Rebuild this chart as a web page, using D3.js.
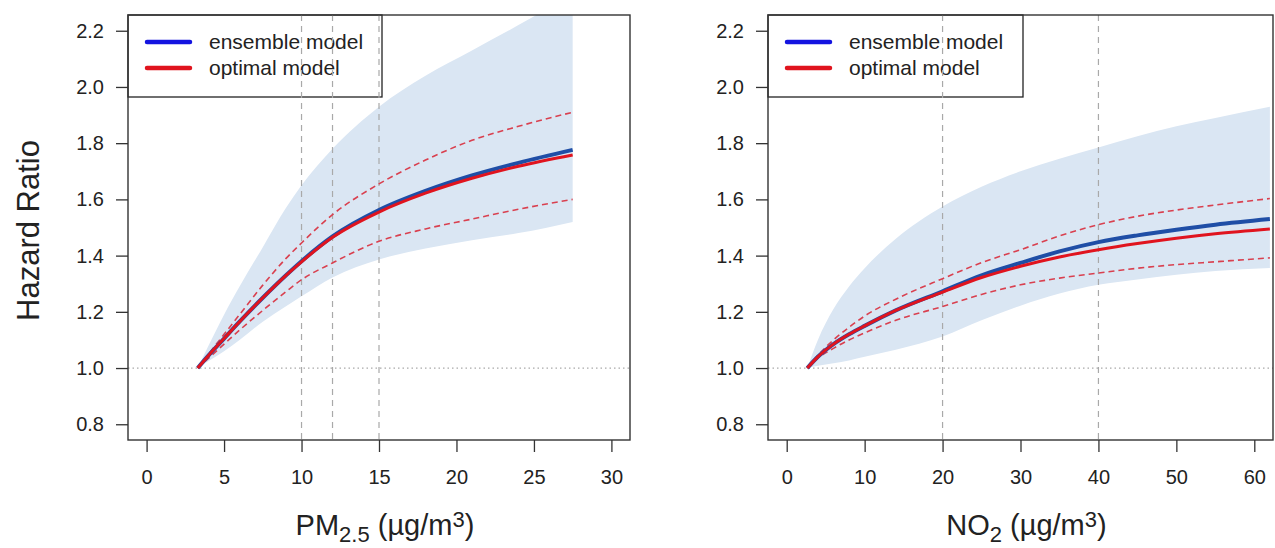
<!DOCTYPE html>
<html>
<head>
<meta charset="utf-8">
<script src="https://cdn.jsdelivr.net/npm/d3@7"></script>
<style>
  body { margin: 0; background: #fff; }
  svg { font-family: "Liberation Sans", Arial, Helvetica, sans-serif; }
</style>
</head>
<body>
<div id="graph"></div>
<script>
// PM2.5 panel
const pmX        = [3.3, 4, 5, 6, 7.5, 9, 10, 12, 15, 18, 21, 24, 27.5];
const pmEnsemble = [1.0, 1.045, 1.105, 1.165, 1.25, 1.33, 1.38, 1.468, 1.562, 1.63, 1.685, 1.73, 1.776];
const pmOptimal  = [1.0, 1.045, 1.105, 1.165, 1.25, 1.33, 1.378, 1.465, 1.555, 1.622, 1.675, 1.718, 1.758];
const pmCiUpper  = [1.0, 1.05, 1.12, 1.19, 1.295, 1.39, 1.445, 1.546, 1.655, 1.74, 1.81, 1.86, 1.91];
const pmCiLower  = [1.0, 1.035, 1.085, 1.135, 1.205, 1.272, 1.314, 1.374, 1.451, 1.495, 1.53, 1.565, 1.60];
const pmBandHigh = [1.0, 1.08, 1.19, 1.29, 1.43, 1.57, 1.65, 1.78, 1.93, 2.04, 2.13, 2.22, 2.33];
const pmBandLow  = [1.0, 1.025, 1.06, 1.10, 1.165, 1.22, 1.255, 1.322, 1.386, 1.425, 1.455, 1.48, 1.52];
const pmXTicks   = [0, 5, 10, 15, 20, 25, 30];
const pmRefLines = [10, 12, 15];

// NO2 panel
const noX        = [2.64, 4, 6, 8, 10, 14, 20, 25, 30, 35, 40, 45, 50, 55, 62];
const noEnsemble = [1.0, 1.04, 1.085, 1.12, 1.15, 1.205, 1.273, 1.33, 1.374, 1.415, 1.448, 1.472, 1.492, 1.51, 1.53];
const noOptimal  = [1.0, 1.04, 1.085, 1.12, 1.15, 1.205, 1.27, 1.322, 1.362, 1.395, 1.421, 1.443, 1.462, 1.478, 1.495];
const noCiUpper  = [1.0, 1.045, 1.10, 1.145, 1.185, 1.245, 1.318, 1.375, 1.421, 1.47, 1.51, 1.54, 1.562, 1.58, 1.603];
const noCiLower  = [1.0, 1.035, 1.07, 1.10, 1.125, 1.17, 1.219, 1.262, 1.296, 1.32, 1.338, 1.355, 1.368, 1.378, 1.392];
const noBandHigh = [1.0, 1.10, 1.21, 1.29, 1.355, 1.46, 1.575, 1.645, 1.70, 1.745, 1.785, 1.825, 1.86, 1.89, 1.93];
const noBandLow  = [1.0, 1.008, 1.017, 1.027, 1.04, 1.065, 1.112, 1.17, 1.222, 1.265, 1.296, 1.315, 1.332, 1.345, 1.356];
const noXTicks   = [0, 10, 20, 30, 40, 50, 60];
const noRefLines = [20, 40];

const yTicks = [0.8, 1.0, 1.2, 1.4, 1.6, 1.8, 2.0, 2.2];
const legendLabels = ['ensemble model', 'optimal model'];

const bandColor = '#dae6f3';
const ensembleColor = '#1f4ea6';
const optimalColor = '#e0141e';
const legendBlue = '#1414e0';
const ciColor = '#d9404f';
const refColor = '#a9a9a9';

const width = 1275;
const height = 548;

const panels = [
  {
    id: 'pm', x: pmX, ensemble: pmEnsemble, optimal: pmOptimal,
    ciUpper: pmCiUpper, ciLower: pmCiLower, bandHigh: pmBandHigh, bandLow: pmBandLow,
    xTicks: pmXTicks, refLines: pmRefLines, xDomain: [-1.2, 31.2],
    left: 128, right: 630, legendWidth: 254, showYTitle: true,
    xTitle: ['PM', '2.5', ' (µg/m', '3', ')'],
  },
  {
    id: 'no', x: noX, ensemble: noEnsemble, optimal: noOptimal,
    ciUpper: noCiUpper, ciLower: noCiLower, bandHigh: noBandHigh, bandLow: noBandLow,
    xTicks: noXTicks, refLines: noRefLines, xDomain: [-2.4, 62.4],
    left: 768, right: 1273, legendWidth: 255, showYTitle: false,
    xTitle: ['NO', '2', ' (µg/m', '3', ')'],
  },
];

const plotTop = 15;
const plotBottom = 440;

function drawPanel(svg, p) {
  const xScaler = d3.scaleLinear().domain(p.xDomain).range([p.left, p.right]);
  const yScaler = d3.scaleLinear().domain([0.744, 2.256]).range([plotBottom, plotTop]);

  const rows = p.x.map((x, i) => ({
    x, ensemble: p.ensemble[i], optimal: p.optimal[i],
    ciUpper: p.ciUpper[i], ciLower: p.ciLower[i],
    bandHigh: p.bandHigh[i], bandLow: p.bandLow[i],
  }));

  svg.append('clipPath').attr('id', `clip-${p.id}`)
    .append('rect')
    .attr('x', p.left).attr('y', plotTop)
    .attr('width', p.right - p.left).attr('height', plotBottom - plotTop);

  const area = d3.area()
    .x(d => xScaler(d.x))
    .y0(d => yScaler(d.bandLow))
    .y1(d => yScaler(d.bandHigh))
    .curve(d3.curveMonotoneX);

  svg.append('g').attr('clip-path', `url(#clip-${p.id})`)
    .append('path')
    .datum(rows)
    .attr('d', area)
    .attr('fill', bandColor);

  // legend first, reference lines cross it like in the original
  const lg = svg.append('g');
  lg.append('rect')
    .attr('x', p.left).attr('y', plotTop)
    .attr('width', p.legendWidth).attr('height', 82)
    .attr('fill', '#fff').attr('stroke', '#222').attr('stroke-width', 1.3);
  [legendBlue, optimalColor].forEach((c, i) => {
    const ly = 42 + i * 26;
    lg.append('line')
      .attr('x1', p.left + 19).attr('x2', p.left + 62)
      .attr('y1', ly).attr('y2', ly)
      .attr('stroke', c).attr('stroke-width', 4.5).attr('stroke-linecap', 'round');
    lg.append('text')
      .attr('x', p.left + 81).attr('y', ly)
      .attr('dy', '0.35em')
      .attr('font-size', '21px').attr('fill', '#222')
      .text(legendLabels[i]);
  });

  const plot = svg.append('g').attr('clip-path', `url(#clip-${p.id})`);

  plot.selectAll('.ref')
    .data(p.refLines)
    .enter()
    .append('line')
    .attr('x1', d => xScaler(d)).attr('x2', d => xScaler(d))
    .attr('y1', plotTop).attr('y2', plotBottom)
    .attr('stroke', refColor).attr('stroke-width', 1.2)
    .attr('stroke-dasharray', '6,5');

  plot.append('line')
    .attr('x1', p.left).attr('x2', p.right)
    .attr('y1', yScaler(1)).attr('y2', yScaler(1))
    .attr('stroke', refColor).attr('stroke-width', 1.2)
    .attr('stroke-dasharray', '1.5,3');

  const lineOf = key => d3.line()
    .x(d => xScaler(d.x))
    .y(d => yScaler(d[key]))
    .curve(d3.curveMonotoneX);

  ['ciUpper', 'ciLower'].forEach(key => {
    plot.append('path')
      .datum(rows)
      .attr('d', lineOf(key))
      .attr('fill', 'none')
      .attr('stroke', ciColor).attr('stroke-width', 1.6)
      .attr('stroke-dasharray', '6,4');
  });

  plot.append('path')
    .datum(rows)
    .attr('d', lineOf('ensemble'))
    .attr('fill', 'none')
    .attr('stroke', ensembleColor).attr('stroke-width', 4);

  plot.append('path')
    .datum(rows)
    .attr('d', lineOf('optimal'))
    .attr('fill', 'none')
    .attr('stroke', optimalColor).attr('stroke-width', 3);

  // box
  svg.append('rect')
    .attr('x', p.left).attr('y', plotTop)
    .attr('width', p.right - p.left).attr('height', plotBottom - plotTop)
    .attr('fill', 'none').attr('stroke', '#333').attr('stroke-width', 1.4);

  const yAxisGen = d3.axisLeft(yScaler)
    .tickValues(yTicks)
    .tickFormat(d3.format('.1f'))
    .tickSize(12)
    .tickPadding(12);
  const yAxis = svg.append('g')
    .attr('transform', `translate(${p.left},0)`)
    .call(yAxisGen);
  yAxis.select('.domain').remove();
  yAxis.selectAll('line').attr('stroke', '#333').attr('stroke-width', 1.3);
  yAxis.selectAll('text').attr('font-size', '20px').attr('fill', '#222')
    .attr('font-family', '"Liberation Sans", Arial, sans-serif');

  const xAxisGen = d3.axisBottom(xScaler)
    .tickValues(p.xTicks)
    .tickSize(12)
    .tickPadding(18);
  const xAxis = svg.append('g')
    .attr('transform', `translate(0,${plotBottom})`)
    .call(xAxisGen);
  xAxis.select('.domain').remove();
  xAxis.selectAll('line').attr('stroke', '#333').attr('stroke-width', 1.3);
  xAxis.selectAll('text').attr('font-size', '20px').attr('fill', '#222')
    .attr('font-family', '"Liberation Sans", Arial, sans-serif');

  const t = p.xTitle;
  const xLabel = svg.append('text')
    .attr('x', (p.left + p.right) / 2 + 6)
    .attr('y', 535)
    .attr('text-anchor', 'middle')
    .attr('font-size', '29px').attr('fill', '#222');
  xLabel.append('tspan').text(t[0]);
  xLabel.append('tspan').attr('font-size', '22px').attr('dy', 7).text(t[1]);
  xLabel.append('tspan').attr('dy', -7).text(t[2]);
  xLabel.append('tspan').attr('font-size', '22px').attr('dy', -8).text(t[3]);
  xLabel.append('tspan').attr('dy', 8).text(t[4]);

  if (p.showYTitle) {
    svg.append('text')
      .attr('transform', `translate(39,${(plotTop + plotBottom) / 2 + 3}) rotate(-90)`)
      .attr('text-anchor', 'middle')
      .attr('font-size', '31px').attr('fill', '#222')
      .text('Hazard Ratio');
  }
}

async function drawChart() {
  const svg = d3.select('#graph')
    .append('svg')
    .attr('width', width)
    .attr('height', height);

  panels.forEach(p => drawPanel(svg, p));
}

drawChart();
</script>
</body>
</html>
